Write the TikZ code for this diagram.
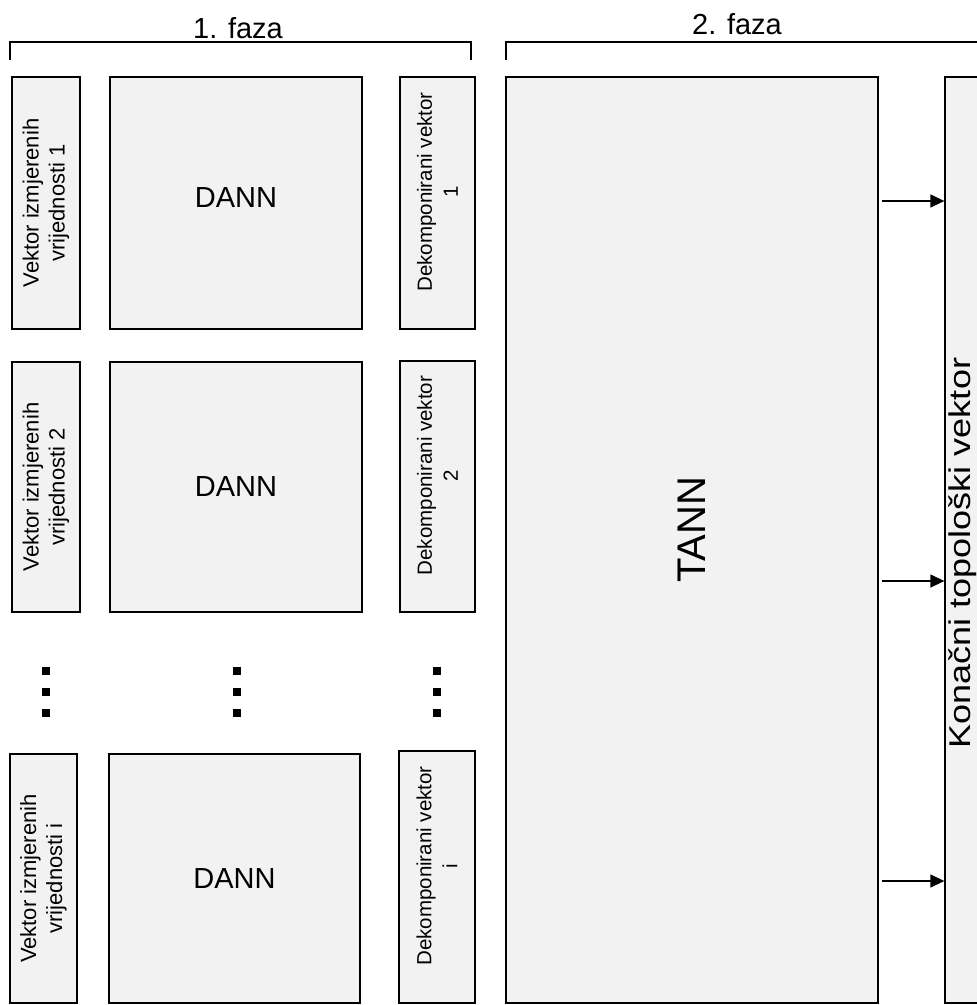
\documentclass[tikz,border=0pt]{standalone}
\usepackage{fontspec}
\setmainfont{Liberation Sans}
\usetikzlibrary{arrows.meta}
\definecolor{boxgray}{HTML}{F2F2F2}
\newcommand{\dk}[1]{\hspace*{22pt}Dekomponirani vektor\\\hspace*{22pt}#1}
\begin{document}
\begin{tikzpicture}[x=1pt,y=-1pt,
  box/.style={draw=black, fill=boxgray, line width=1.3pt, inner sep=0pt, rotate=90, align=center},
  plainbox/.style={draw=black, fill=boxgray, line width=1.3pt, inner sep=0pt},
  small/.style={font=\fontsize{22}{26}\selectfont},
  smalldk/.style={font=\fontsize{20.5}{26}\selectfont},
  mid/.style={font=\fontsize{29}{34}\selectfont},
  brk/.style={line width=1.3pt},
  dotsq/.style={fill=black, draw=none, minimum size=8pt, inner sep=0pt},
  arr/.style={line width=1.3pt, -{Triangle[length=14pt,width=13pt]}}]
\useasboundingbox (0,0) rectangle (977,1005);
\clip (0,0) rectangle (977,1005);
% phase brackets
\draw[brk] (10,60) -- (10,42) -- (471,42) -- (471,60);
\draw[brk] (506,60) -- (506,42) -- (990,42);
\node[mid] (f1) at (238,28) {1. faza};
\node[mid] (f2) at (737,24) {2. faza};
% row 1
\node[box,small,minimum width=252pt,minimum height=68pt] (v1) at (46,203) {Vektor izmjerenih\\vrijednosti 1};
\node[plainbox,minimum width=252pt,minimum height=252pt] (d1) at (236,203) {};
\node[mid] (d1t) at (236,198) {DANN};
\node[box,smalldk,minimum width=252pt,minimum height=75pt] (k1) at (437.5,203) {\dk{1}};
% row 2
\node[box,small,minimum width=250pt,minimum height=68pt] (v2) at (46,487) {Vektor izmjerenih\\vrijednosti 2};
\node[plainbox,mid,minimum width=252pt,minimum height=250pt] (d2) at (236,487) {DANN};
\node[box,smalldk,minimum width=251pt,minimum height=75pt] (k2) at (437.5,486.5) {\dk{2}};
% row 3
\node[box,small,minimum width=249pt,minimum height=67pt] (v3) at (43.5,878.5) {Vektor izmjerenih\\vrijednosti i};
\node[plainbox,mid,minimum width=251pt,minimum height=249pt] (d3) at (234.5,878.5) {DANN};
\node[box,smalldk,minimum width=252pt,minimum height=76pt] (k3) at (437,877) {\dk{i}};
% dots
\foreach \x/\n in {46/a,237/b,437/c}{
  \node[dotsq] (\n1) at (\x,671) {};
  \node[dotsq] (\n2) at (\x,692) {};
  \node[dotsq] (\n3) at (\x,713) {};
}
% TANN
\node[plainbox,minimum width=372pt,minimum height=926pt] (tann) at (692,540) {};
\node[rotate=90,font=\fontsize{40}{46}\selectfont] (tannt) at (692,530) {TANN};
% final vector
\node[plainbox,minimum width=80pt,minimum height=926pt] (fin) at (985,540) {};
\node[rotate=90,anchor=base,font=\fontsize{30}{36}\selectfont,inner sep=0pt] (finl) at (970,553) {\scalebox{1.2}[1]{Konačni topološki vektor}};
% arrows
\coordinate (s1) at (882,201);
\coordinate (s2) at (882,581);
\coordinate (s3) at (882,881);
\foreach \s in {s1,s2,s3}{
  \draw[arr] (\s) -- (\s -| fin.west);
}
\end{tikzpicture}
\end{document}
